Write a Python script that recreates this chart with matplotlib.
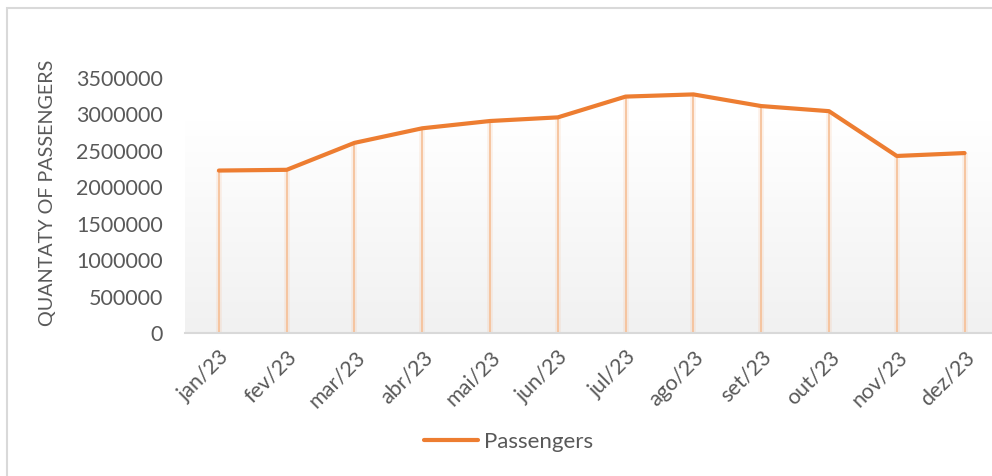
import matplotlib.pyplot as plt
import numpy as np
from matplotlib.patches import Rectangle
from matplotlib.colors import LinearSegmentedColormap

months = ['jan/23', 'fev/23', 'mar/23', 'abr/23', 'mai/23', 'jun/23',
          'jul/23', 'ago/23', 'set/23', 'out/23', 'nov/23', 'dez/23']
passengers = [2230000, 2240000, 2610000, 2810000, 2910000, 2960000,
              3245000, 3275000, 3115000, 3045000, 2430000, 2470000]
y_ticks = [0, 500000, 1000000, 1500000, 2000000, 2500000, 3000000, 3500000]

plt.rcParams['font.family'] = ['Lato', 'DejaVu Sans']
text_color = '#595959'
orange = '#ED7D31'

fig = plt.figure(figsize=(9.92, 4.76), dpi=100)
ax = fig.add_axes([0.1865, 0.3004, 0.820, 0.5357])

x = np.arange(len(months))
ax.set_xlim(-0.5, len(months) - 0.5)
ax.set_ylim(0, 3500000)

# soft grey gradient behind the series
grad = LinearSegmentedColormap.from_list('bg', ['#f1f1f1', '#ffffff'])
ax.imshow(np.linspace(0, 1, 256).reshape(-1, 1), cmap=grad, aspect='auto',
          origin='lower', extent=(-0.5, len(months) - 0.5, 0, 2900000),
          zorder=0)

# drop lines from each point down to the axis
ax.vlines(x, 0, passengers, color='#f4b183', lw=4, alpha=0.18, zorder=1)
ax.vlines(x, 0, passengers, color='#f6c29b', lw=1.3, zorder=2)

ax.plot(x, passengers, color=orange, lw=3, solid_capstyle='round',
        solid_joinstyle='round', label='Passengers', zorder=3)

ax.set_xticks(x)
ax.set_xticklabels(months, rotation=45, ha='right', rotation_mode='anchor',
                   fontsize=15.5, color=text_color)
ax.set_yticks(y_ticks)
ax.set_yticklabels([str(v) for v in y_ticks], fontsize=15.5, color=text_color)
ax.tick_params(axis='both', length=0)
ax.tick_params(axis='x', pad=10)
ax.tick_params(axis='y', pad=16)

for side in ['top', 'right', 'left']:
    ax.spines[side].set_visible(False)
ax.spines['bottom'].set_color('#d9d9d9')
ax.spines['bottom'].set_linewidth(1.5)

ax.set_ylabel('QUANTATY OF PASSENGERS', fontsize=14.2, color=text_color)
ax.yaxis.set_label_coords(-0.1586, 0.551)

ax.legend(loc='center', bbox_to_anchor=(509 / 992, 1 - 442 / 476),
          bbox_transform=fig.transFigure, frameon=False, fontsize=16,
          labelcolor=text_color, handlelength=2.4, handletextpad=0.3)

fig.patches.append(Rectangle((7 / 992, -0.1), 1.2, 1 - 8 / 476 + 0.1,
                             transform=fig.transFigure, fill=False,
                             edgecolor='#d9d9d9', lw=1.5))

fig.savefig('out.png', dpi=100)
